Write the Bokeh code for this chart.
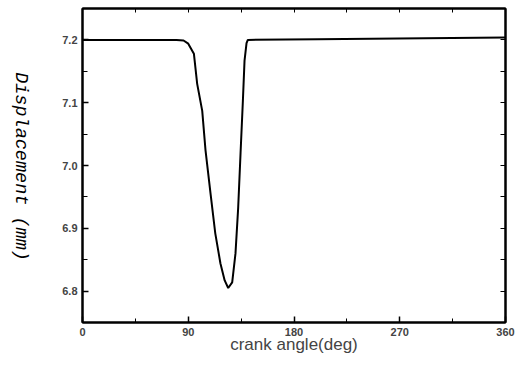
import math
from bokeh.plotting import figure
from bokeh.layouts import row
from bokeh.models import FixedTicker, LinearAxis, Range1d, PrintfTickFormatter, CustomJSTickFormatter, Label
from bokeh.embed import file_html
from bokeh.resources import INLINE

# crank angle (deg) and valve displacement (mm)
angle = [0, 80, 86, 90, 94.8, 97.6, 101.9, 104.7, 109, 113, 117.4, 121, 124,
         127.4, 130.2, 132.5, 134.5, 136.5, 137.9, 139.6, 140.7, 200, 360]
disp = [7.2, 7.2, 7.199, 7.194, 7.178, 7.13, 7.087, 7.024, 6.955, 6.892, 6.844,
        6.817, 6.805, 6.814, 6.86, 6.933, 7.019, 7.103, 7.167, 7.195, 7.2, 7.201, 7.204]

x_ticks = [0, 90, 180, 270, 360]
x_minor = [45, 135, 225, 315]
y_ticks = [6.8, 6.9, 7.0, 7.1, 7.2]
y_minor = [6.75, 6.85, 6.95, 7.05, 7.15, 7.25]

LABEL_W = 50

# narrow strip that carries the y label, read top to bottom
lab_fig = figure(width=LABEL_W, height=366, output_backend="svg", toolbar_location=None,
                 x_range=Range1d(0, 1), y_range=Range1d(0, 1),
                 x_axis_type=None, y_axis_type=None,
                 min_border=0)
lab_fig.outline_line_color = None
lab_fig.background_fill_color = "white"
lab_fig.border_fill_color = "white"
lab_fig.add_layout(Label(x=20, y=156, x_units="screen", y_units="screen",
                         text="Displacement (mm)", angle=-math.pi / 2,
                         text_align="center", text_baseline="middle",
                         text_font="Liberation Mono", text_font_style="italic",
                         text_font_size="18.5px", text_color="black"))

p = figure(width=522 - LABEL_W, height=366, output_backend="svg", toolbar_location=None,
           x_range=Range1d(0, 360), y_range=Range1d(6.75, 7.25),
           min_border_left=82 - LABEL_W, min_border_right=17, min_border_top=8, min_border_bottom=44)
p.background_fill_color = "white"
p.border_fill_color = "white"
p.outline_line_color = "black"
p.outline_line_width = 2
p.xgrid.visible = False
p.ygrid.visible = False

p.line(angle, disp, line_color="black", line_width=2)

tick_font = "Liberation Sans"
blank = CustomJSTickFormatter(code="return ''")

xa = p.xaxis[0]
xa.ticker = FixedTicker(ticks=x_ticks, minor_ticks=x_minor)
xa.axis_line_width = 2
xa.major_tick_in = 6
xa.major_tick_out = 0
xa.minor_tick_in = 4
xa.minor_tick_out = 0
xa.major_tick_line_width = 1.5
xa.major_label_text_font = tick_font
xa.major_label_text_font_style = "bold"
xa.major_label_text_font_size = "11px"
xa.major_label_standoff = 5
xa.axis_label = "crank angle(deg)"
xa.axis_label_text_font = tick_font
xa.axis_label_text_font_style = "normal"
xa.axis_label_text_font_size = "17px"
xa.axis_label_standoff = -4

ya = p.yaxis[0]
ya.ticker = FixedTicker(ticks=y_ticks, minor_ticks=y_minor)
ya.formatter = PrintfTickFormatter(format="%.1f")
ya.axis_line_width = 2
ya.major_tick_in = 6
ya.major_tick_out = 0
ya.minor_tick_in = 5
ya.minor_tick_out = 0
ya.major_tick_line_width = 1.5
ya.major_label_text_font = tick_font
ya.major_label_text_font_style = "bold"
ya.major_label_text_font_size = "11px"
ya.major_label_standoff = 5

top = LinearAxis(ticker=FixedTicker(ticks=x_ticks[1:-1] + x_minor), formatter=blank,
                 major_tick_in=4, major_tick_out=0, minor_tick_in=0, minor_tick_out=0,
                 axis_line_width=2)
p.add_layout(top, "above")
right = LinearAxis(ticker=FixedTicker(ticks=y_ticks + y_minor[:-1]), formatter=blank,
                   major_tick_in=5, major_tick_out=0, minor_tick_in=0, minor_tick_out=0,
                   axis_line_width=2)
p.add_layout(right, "right")

layout = row(lab_fig, p, spacing=0)
open("out.html", "w").write(file_html(layout, INLINE))
